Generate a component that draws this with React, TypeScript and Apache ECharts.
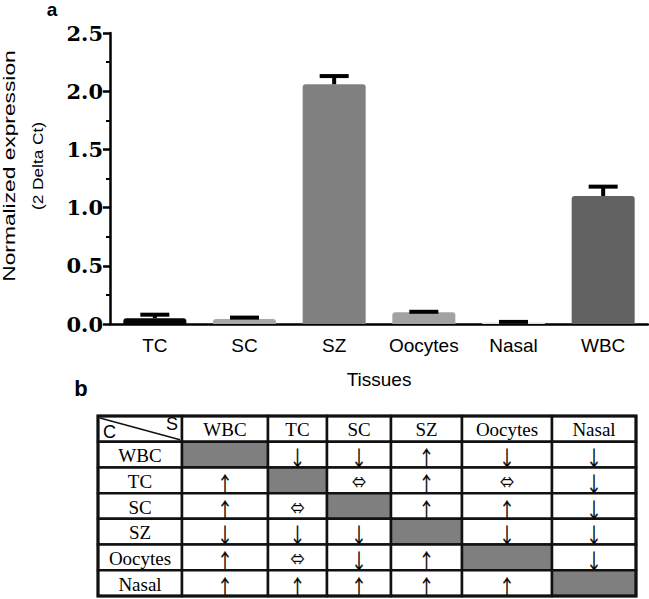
import React, { useEffect, useRef } from "react";
import * as echarts from "echarts";

const categories = ["TC", "SC", "SZ", "Oocytes", "Nasal", "WBC"];
const means = [0.05, 0.043, 2.06, 0.1, 0.015, 1.1];
const upperErr = [0.08, 0.055, 2.13, 0.105, 0.018, 1.18];
const barColors = ["#050505", "#a8a8a8", "#808080", "#a2a2a2", "#e4e4e4", "#626262"];

const tableRowLabels = ["WBC", "TC", "SC", "SZ", "Oocytes", "Nasal"];
const tableColLabels = ["WBC", "TC", "SC", "SZ", "Oocytes", "Nasal"];
const changeMatrix = [
  ["", "↓", "↓", "↑", "↓", "↓"],
  ["↑", "", "⇔", "↑", "⇔", "↓"],
  ["↑", "⇔", "", "↑", "↑", "↓"],
  ["↓", "↓", "↓", "", "↓", "↓"],
  ["↑", "⇔", "↓", "↑", "", "↓"],
  ["↑", "↑", "↑", "↑", "↑", ""],
];

// layout of table columns (pixel widths in the table's own value axis)
const colEdges = [0, 84, 170, 229, 293, 364, 454, 538];

type Cell = { col: number; row: number; text: string; kind: string };

function buildCells(): Cell[] {
  const cells: Cell[] = [];
  cells.push({ col: 0, row: 0, text: "", kind: "corner" });
  tableColLabels.forEach((t, j) => cells.push({ col: j + 1, row: 0, text: t, kind: "head" }));
  tableRowLabels.forEach((t, i) => {
    cells.push({ col: 0, row: i + 1, text: t, kind: "head" });
    changeMatrix[i].forEach((v, j) => {
      cells.push({ col: j + 1, row: i + 1, text: v, kind: v === "" ? "diag" : "val" });
    });
  });
  return cells;
}

const ARROW_FONT = "Noto Sans CJK SC, Noto Sans CJK JP, DejaVu Sans";

export default function App() {
  const ref = useRef<HTMLDivElement>(null);
  useEffect(() => {
    if (!ref.current) return;
    const chart = echarts.init(ref.current, null, { renderer: "svg" });
    const cells = buildCells();
    const option: any = {
      animation: false,
      backgroundColor: "#fff",
      grid: [
        { left: 110, right: 1, top: 33, bottom: 275 },
        { left: 98, top: 416, width: 538, height: 180 },
      ],
      xAxis: [
        {
          type: "category",
          gridIndex: 0,
          data: categories,
          axisLine: { lineStyle: { color: "#000", width: 2.5 } },
          axisTick: { alignWithLabel: true, length: 7, lineStyle: { color: "#000", width: 2.5 } },
          axisLabel: { interval: 0, color: "#000", fontSize: 19, fontFamily: "Liberation Sans, Arial", margin: 12 },
          name: "Tissues",
          nameLocation: "middle",
          nameGap: 46,
          nameTextStyle: { color: "#000", fontSize: 19, fontFamily: "Liberation Sans, Arial" },
        },
        { type: "value", gridIndex: 1, min: 0, max: 538, show: false },
      ],
      yAxis: [
        {
          type: "value",
          gridIndex: 0,
          min: 0,
          max: 2.5,
          interval: 0.5,
          axisLine: { show: true, lineStyle: { color: "#000", width: 2.5 } },
          axisTick: { show: true, length: 7, lineStyle: { color: "#000", width: 2.5 } },
          minorTick: { show: true, splitNumber: 2, length: 4, lineStyle: { color: "#000", width: 2 } },
          splitLine: { show: false },
          axisLabel: {
            color: "#000",
            fontSize: 21,
            fontWeight: "bold",
            fontFamily: "DejaVu Serif",
            margin: 7,
            formatter: (v: number) => v.toFixed(1),
          },
        },
        { type: "value", gridIndex: 1, min: 0, max: 7, inverse: true, show: false },
      ],
      graphic: [
        {
          type: "text",
          x: 52,
          y: 9,
          style: { text: "a", fontSize: 19, fontWeight: "bold", fontFamily: "Liberation Sans, Arial", fill: "#000", align: "center", verticalAlign: "middle" },
        },
        {
          type: "text",
          x: 81,
          y: 388,
          style: { text: "b", fontSize: 22, fontWeight: "bold", fontFamily: "Liberation Sans, Arial", fill: "#000", align: "center", verticalAlign: "middle" },
        },
        {
          type: "text",
          x: 9,
          y: 166,
          rotation: Math.PI / 2,
          scaleX: 1.38,
          style: { text: "Normalized expression", fontSize: 16.5, fontFamily: "Liberation Sans, Arial", fill: "#000", align: "center", verticalAlign: "middle" },
        },
        {
          type: "text",
          x: 37,
          y: 166,
          rotation: Math.PI / 2,
          scaleX: 1.15,
          style: { text: "(2 Delta Ct)", fontSize: 15, fontFamily: "Liberation Sans, Arial", fill: "#000", align: "center", verticalAlign: "middle" },
        },
      ],
      series: [
        {
          type: "bar",
          xAxisIndex: 0,
          yAxisIndex: 0,
          barWidth: 63,
          data: means.map((v, i) => ({ value: v, itemStyle: { color: barColors[i], borderRadius: [3, 3, 0, 0] } })),
          z: 2,
        },
        {
          type: "custom",
          xAxisIndex: 0,
          yAxisIndex: 0,
          z: 3,
          data: means.map((m, i) => [i, m, upperErr[i]]),
          encode: { x: 0, y: [1, 2] },
          renderItem: (params: any, api: any) => {
            const x = api.value(0);
            const pm = api.coord([x, api.value(1)]);
            const pu = api.coord([x, api.value(2)]);
            return {
              type: "group",
              children: [
                { type: "line", shape: { x1: pm[0], y1: pm[1], x2: pu[0], y2: pu[1] }, style: { stroke: "#000", lineWidth: 4 } },
                { type: "line", shape: { x1: pu[0] - 14.5, y1: pu[1], x2: pu[0] + 14.5, y2: pu[1] }, style: { stroke: "#000", lineWidth: 4 } },
              ],
            };
          },
        },
        {
          type: "custom",
          xAxisIndex: 1,
          yAxisIndex: 1,
          data: cells.map((c) => [c.col, c.row]),
          renderItem: (params: any, api: any) => {
            const c = cells[params.dataIndex];
            const p0 = api.coord([colEdges[c.col], c.row]);
            const p1 = api.coord([colEdges[c.col + 1], c.row + 1]);
            const w = p1[0] - p0[0];
            const h = p1[1] - p0[1];
            const cx = p0[0] + w / 2;
            const children: any[] = [
              {
                type: "rect",
                shape: { x: p0[0], y: p0[1], width: w, height: h },
                style: { fill: c.kind === "diag" ? "#7f7f7f" : "#fff", stroke: "#111", lineWidth: 2.5 },
              },
            ];
            if (c.kind === "corner") {
              children.push({ type: "line", shape: { x1: p0[0] + 2, y1: p0[1] + 2, x2: p1[0] - 2, y2: p1[1] - 2 }, style: { stroke: "#111", lineWidth: 1.5 } });
              children.push({ type: "text", x: p0[0] + 5, y: p1[1] - 1, style: { text: "C", fontSize: 18, fontFamily: "Liberation Sans, Arial", fill: "#000", align: "left", verticalAlign: "bottom" } });
              children.push({ type: "text", x: p1[0] - 4, y: p0[1] - 1, style: { text: "S", fontSize: 18, fontFamily: "Liberation Sans, Arial", fill: "#000", align: "right", verticalAlign: "top" } });
            } else if (c.kind === "head") {
              children.push({ type: "text", x: cx, y: p0[1] + h / 2 + 1, style: { text: c.text, fontSize: 19, fontFamily: "Liberation Serif, Times New Roman", fill: "#000", align: "center", verticalAlign: "middle" } });
            } else if (c.kind === "val") {
              if (c.text === "⇔") {
                children.push({ type: "text", x: cx, y: p0[1] + h / 2 + 1, style: { text: c.text, fontSize: 14, fontFamily: ARROW_FONT, fill: "#000", stroke: "#333", lineWidth: 0.3, align: "center", verticalAlign: "middle" } });
              } else {
                children.push({ type: "text", x: cx, y: p0[1] + h / 2 + 2, scaleY: 1.3, style: { text: c.text, fontSize: 16, lineHeight: 16, fontFamily: ARROW_FONT, fill: "#000", stroke: "#333", lineWidth: 0.3, align: "center", verticalAlign: "middle" } });
              }
            }
            if (params.dataIndex === 0) {
              const q0 = api.coord([0, 0]);
              const q1 = api.coord([colEdges[colEdges.length - 1], 7]);
              children.push({ type: "rect", shape: { x: q0[0], y: q0[1], width: q1[0] - q0[0], height: q1[1] - q0[1] }, style: { fill: "none", stroke: "#111", lineWidth: 3 }, z2: 100 });
            }
            return { type: "group", children };
          },
        },
      ],
    };
    chart.setOption(option);
    return () => chart.dispose();
  }, []);
  return <div ref={ref} style={{ position: "absolute", left: 0, top: 0, width: 649, height: 599 }} />;
}
